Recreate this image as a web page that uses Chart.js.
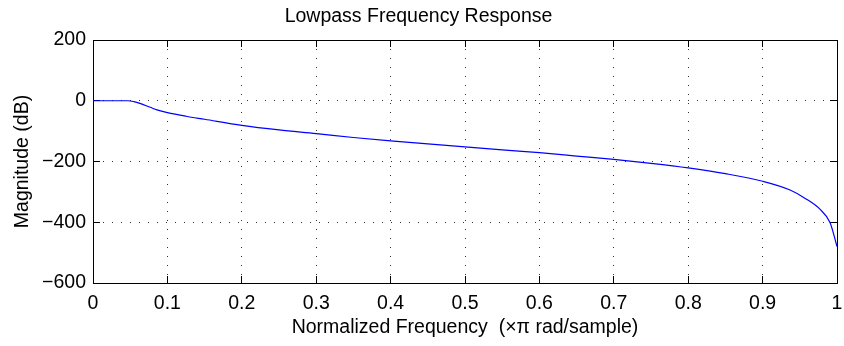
<!DOCTYPE html>
<html>
<head>
<meta charset="utf-8">
<title>Lowpass Frequency Response</title>
<script src="https://cdn.jsdelivr.net/npm/chart.js@4/dist/chart.umd.min.js"></script>
<style>
  html, body { margin: 0; padding: 0; background: #ffffff; }
  #c { display: block; }
</style>
</head>
<body>
<canvas id="c" width="844" height="346"></canvas>
<script>
// Normalized frequency (x pi rad/sample)
const freq = [0, 0.047, 0.055, 0.063, 0.077, 0.086, 0.1, 0.125, 0.15, 0.2, 0.25, 0.3,
  0.35, 0.4, 0.45, 0.5, 0.55, 0.6, 0.65, 0.7, 0.75, 0.8, 0.85, 0.9, 0.937, 0.959,
  0.977, 0.9906, 0.9955, 1.0];
// Magnitude response in dB
const magnitude = [0, 0, -3, -8.5, -21.6, -30, -39, -51, -61, -81, -96, -108,
  -121, -132, -142, -152, -162, -171, -182, -193, -206, -221, -240, -265, -294, -324,
  -357, -401, -439, -480];
// Axis ticks
const xTicks = [0, 0.1, 0.2, 0.3, 0.4, 0.5, 0.6, 0.7, 0.8, 0.9, 1];
const yTicks = [200, 0, -200, -400, -600];

const FONT = "'Liberation Sans', Arial, Helvetica, sans-serif";
const FSIZE = 19.5;
const TICK_IN = -7;   // negative length: tick marks point into the plot box

const fmt = v => {
  const n = Number(Number(v).toFixed(1));
  return n < 0 ? '\u2212' + Math.abs(n) : String(n);
};
const labelFont = { family: FONT, size: FSIZE, lineHeight: 1.2 };
const setX = s => { s.ticks = xTicks.map(v => ({ value: v })); };
const setY = s => { s.ticks = yTicks.map(v => ({ value: v })); };

new Chart(document.getElementById('c'), {
  type: 'line',
  data: {
    datasets: [{
      data: freq.map((f, i) => ({ x: f, y: magnitude[i] })),
      borderColor: '#0000ff',
      borderWidth: 1.2,
      pointRadius: 0,
      fill: false,
      cubicInterpolationMode: 'monotone',
      xAxisID: 'x',
      yAxisID: 'y'
    }]
  },
  options: {
    responsive: false,
    animation: false,
    devicePixelRatio: 1,
    layout: { padding: { left: 0, right: 7, top: 0, bottom: 0 } },
    plugins: {
      legend: { display: false },
      tooltip: { enabled: false },
      title: {
        display: true,
        text: 'Lowpass Frequency Response',
        color: '#000',
        font: { family: FONT, size: FSIZE, weight: 'normal', lineHeight: 1.2 },
        padding: { top: 4.8, bottom: 11.8 }
      }
    },
    scales: {
      x: {
        type: 'linear',
        position: 'bottom',
        min: 0, max: 1,
        afterFit(s) { s.height = 63; s.paddingLeft = 0; s.paddingRight = 0; },
        afterBuildTicks: setX,
        ticks: {
          color: '#000', font: labelFont,
          padding: 9 - TICK_IN,
          maxRotation: 0, autoSkip: false,
          callback: fmt
        },
        grid: { color: '#333', lineWidth: 1, drawTicks: true, tickLength: TICK_IN, tickColor: '#000', tickWidth: 1 },
        border: { display: true, color: '#000', width: 1, dash: [1, 8] },
        title: {
          display: true,
          text: 'Normalized Frequency  (\u00d7\u03c0 rad/sample)',
          color: '#000', font: labelFont,
          padding: { top: 0, bottom: 7.1 }
        }
      },
      y: {
        type: 'linear',
        position: 'left',
        min: -600, max: 200,
        afterFit(s) { s.width = 93; s.paddingTop = 0; s.paddingBottom = 0; },
        afterBuildTicks: setY,
        ticks: {
          color: '#000', font: labelFont,
          padding: 7 - TICK_IN,
          autoSkip: false,
          callback: fmt
        },
        grid: { color: '#333', lineWidth: 1, drawTicks: true, tickLength: TICK_IN, tickColor: '#000', tickWidth: 1 },
        border: { display: true, color: '#000', width: 1, dash: [1, 8] },
        title: {
          display: true,
          text: 'Magnitude (dB)',
          color: '#000', font: labelFont,
          padding: { top: 10.5, bottom: 0 }
        }
      },
      x2: {
        type: 'linear',
        position: 'top',
        min: 0, max: 1,
        afterFit(s) { s.height = 0; s.paddingLeft = 0; s.paddingRight = 0; },
        afterBuildTicks: setX,
        ticks: { display: false },
        grid: { drawOnChartArea: false, drawTicks: true, tickLength: TICK_IN, tickColor: '#000', tickWidth: 1 },
        border: { display: true, color: '#000', width: 1 }
      },
      y2: {
        type: 'linear',
        position: 'right',
        min: -600, max: 200,
        afterFit(s) { s.width = 0; s.paddingTop = 0; s.paddingBottom = 0; },
        afterBuildTicks: setY,
        ticks: { display: false },
        grid: { drawOnChartArea: false, drawTicks: true, tickLength: TICK_IN, tickColor: '#000', tickWidth: 1 },
        border: { display: true, color: '#000', width: 1 }
      }
    }
  }
});
</script>
</body>
</html>
